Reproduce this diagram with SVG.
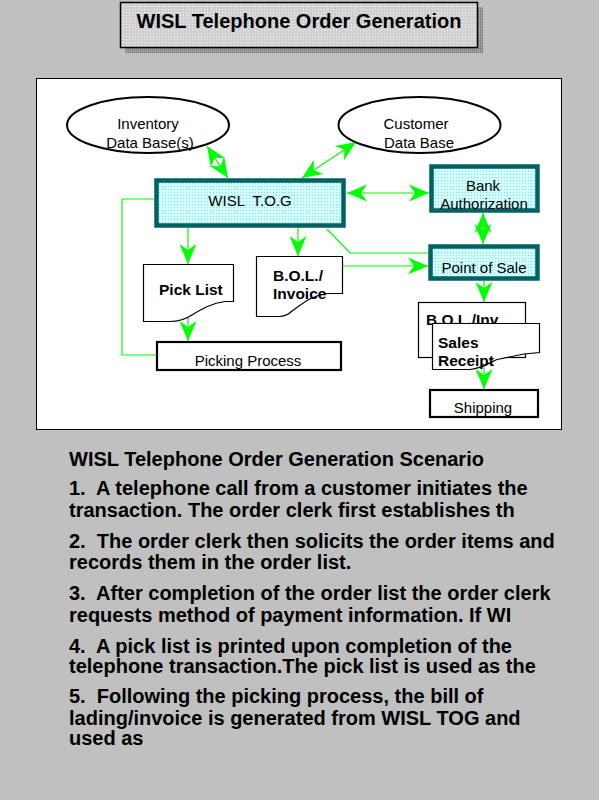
<svg xmlns="http://www.w3.org/2000/svg" width="599" height="800" viewBox="0 0 599 800">
<style>
.t{font-family:"Liberation Sans",Arial,sans-serif;fill:#000}
.nb{font-size:15px}
.bd{font-size:15.5px;font-weight:bold}
.p{font-size:20px;font-weight:bold;white-space:pre}
.ln{stroke:#00FF00;stroke-width:1.2;fill:none}
.ar{marker-end:url(#ah)}
.da{marker-start:url(#ah);marker-end:url(#ah)}
.cy{fill:url(#cyan);stroke:#006262;stroke-width:4.5}
.bx{fill:#fff;stroke:#000;stroke-width:2.2}
.doc{fill:#fff;stroke:#000;stroke-width:1.2}
.el{fill:#fff;stroke:#000;stroke-width:2}
</style>
<defs>
<pattern id="cyan" width="3" height="3" patternUnits="userSpaceOnUse">
<rect width="3" height="3" fill="#CFFFFF"/>
<rect width="1" height="1" fill="#8FD8D8"/>
</pattern>
<pattern id="tdots" width="3" height="3" patternUnits="userSpaceOnUse">
<rect width="3" height="3" fill="#D0D0D0"/>
<rect width="1" height="1" fill="#F4F4F4"/>
</pattern>
<pattern id="sdots" width="2" height="2" patternUnits="userSpaceOnUse">
<rect width="2" height="2" fill="#A0A0A0"/>
<rect width="1" height="1" fill="#707070"/>
</pattern>
<marker id="ah" markerUnits="userSpaceOnUse" markerWidth="24" markerHeight="20" viewBox="-22 -10 24 20" refX="0" refY="0" orient="auto-start-reverse" overflow="visible">
<path d="M0,0 L-20,-8.5 L-14,0 L-20,8.5 Z" fill="#00FF00"/>
</marker>
</defs>
<rect width="599" height="800" fill="#C0C0C0"/>

<g id="title">
<rect x="125" y="7" width="358" height="46" fill="url(#sdots)"/>
<rect x="120.5" y="2.5" width="357" height="45" fill="url(#tdots)" stroke="#000" stroke-width="1.5"/>
<text class="t" x="299" y="28" text-anchor="middle" font-size="20" font-weight="bold">WISL Telephone Order Generation</text>
</g>

<g id="panel">
<rect x="36.5" y="78.5" width="525" height="351" fill="#fff" stroke="#000" stroke-width="1"/>
</g>

<g id="connectors">
<path class="ln" d="M154,199 H122 V355 H156"/>
<path class="ln" d="M327,229 L350,253 H428"/>
<line class="ln da" x1="207" y1="146" x2="228" y2="178"/>
<line class="ln da" x1="302" y1="178" x2="356" y2="142"/>
<line class="ln da" x1="347" y1="193" x2="429" y2="193"/>
<line class="ln da" x1="483" y1="213" x2="483" y2="244"/>
<line class="ln ar" x1="188" y1="228" x2="188" y2="264"/>
<line class="ln ar" x1="298" y1="228" x2="298" y2="256"/>
<line class="ln ar" x1="342" y1="266" x2="428" y2="266"/>
<line class="ln ar" x1="484" y1="281" x2="484" y2="302"/>
<line class="ln ar" x1="188" y1="318" x2="188" y2="341"/>
<line class="ln ar" x1="484" y1="366" x2="484" y2="389"/>
</g>

<g id="inventory-db">
<ellipse class="el" cx="148" cy="125" rx="81" ry="28"/>
<text class="t nb" x="148" y="129" text-anchor="middle">Inventory</text>
<text class="t nb" x="150" y="148" text-anchor="middle">Data Base(s)</text>
</g>

<g id="customer-db">
<ellipse class="el" cx="419.5" cy="125" rx="81" ry="28"/>
<text class="t nb" x="416" y="129" text-anchor="middle">Customer</text>
<text class="t nb" x="419" y="148" text-anchor="middle">Data Base</text>
</g>

<g id="wisl-tog">
<rect class="cy" x="156.5" y="180.5" width="187" height="45"/>
<text class="t nb" x="250" y="206" text-anchor="middle" style="white-space:pre">WISL  T.O.G</text>
</g>

<g id="bank-authorization">
<rect class="cy" x="431.5" y="166.5" width="106" height="44"/>
<text class="t nb" x="483" y="191" text-anchor="middle">Bank</text>
<text class="t nb" x="484" y="209" text-anchor="middle">Authorization</text>
</g>

<g id="point-of-sale">
<rect class="cy" x="430.5" y="246.5" width="107" height="32"/>
<text class="t nb" x="484" y="273" text-anchor="middle">Point of Sale</text>
</g>

<g id="pick-list">
<path class="doc" d="M143.5,264.5 H233.5 V301.5 H225 C212,303 202,309 192,315 C186,319 178,321.5 170,321.5 H143.5 Z"/>
<text class="t bd" x="159" y="295">Pick List</text>
</g>

<g id="bol-invoice">
<path class="doc" d="M256.5,256.5 H342.5 V293.5 H327 C312,295 302,304 292,311 C288,315 284,316.5 279,316.5 H256.5 Z"/>
<text class="t bd" x="273" y="281">B.O.L./</text>
<text class="t bd" x="273" y="299">Invoice</text>
</g>

<g id="picking-process">
<rect class="bx" x="157" y="342" width="184" height="28"/>
<text class="t nb" x="248" y="366" text-anchor="middle">Picking Process</text>
</g>

<g id="bol-inv">
<rect class="doc" x="418.5" y="302.5" width="107" height="55"/>
<text class="t bd" x="426" y="325">B.O.L./Inv</text>
</g>

<g id="sales-receipt">
<path class="doc" d="M432.5,323.5 H539.5 V352.5 L524,354 L497,359.5 C490,362 484,368 470,369.5 H432.5 Z"/>
<text class="t bd" x="438" y="348">Sales</text>
<text class="t bd" x="438" y="366">Receipt</text>
</g>

<g id="shipping">
<rect class="bx" x="430" y="390" width="108" height="27"/>
<text class="t nb" x="483" y="413" text-anchor="middle">Shipping</text>
</g>

<g id="scenario-text">
<text class="t p" x="69" y="466">WISL Telephone Order Generation Scenario</text>
<text class="t p" x="69" y="495">1.  A telephone call from a customer initiates the</text>
<text class="t p" x="69" y="517">transaction. The order clerk first establishes th</text>
<text class="t p" x="69" y="548">2.  The order clerk then solicits the order items and</text>
<text class="t p" x="69" y="569">records them in the order list.</text>
<text class="t p" x="69" y="600">3.  After completion of the order list the order clerk</text>
<text class="t p" x="69" y="622">requests method of payment information. If WI</text>
<text class="t p" x="69" y="653">4.  A pick list is printed upon completion of the</text>
<text class="t p" x="69" y="673">telephone transaction.The pick list is used as the</text>
<text class="t p" x="69" y="703">5.  Following the picking process, the bill of</text>
<text class="t p" x="69" y="725">lading/invoice is generated from WISL TOG and</text>
<text class="t p" x="69" y="745">used as</text>
</g>
</svg>
